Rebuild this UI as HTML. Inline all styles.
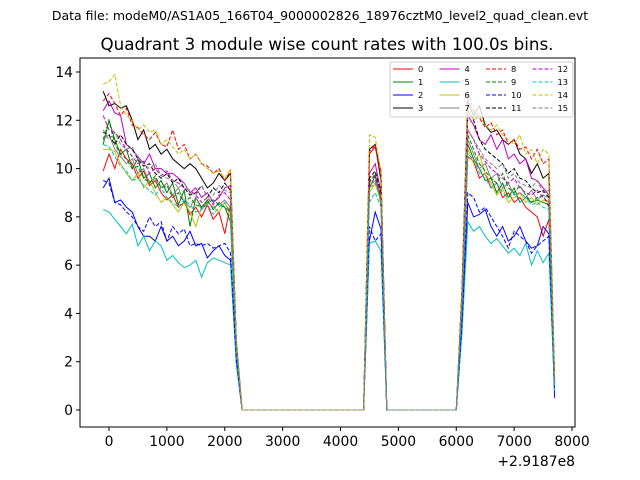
<!DOCTYPE html>
<html><head><meta charset="utf-8"><style>
html,body{margin:0;padding:0;background:#fff;}
svg{display:block;font-family:"DejaVu Sans","Liberation Sans",sans-serif;}
</style></head><body>
<svg id="chart" width="640" height="480" viewBox="0 0 640 480" xmlns="http://www.w3.org/2000/svg">
<rect width="640" height="480" fill="#fff"/>
<text x="320" y="20" font-size="12.5" text-anchor="middle">Data file: modeM0/AS1A05_166T04_9000002826_18976cztM0_level2_quad_clean.evt</text>
<text x="327" y="50" font-size="16.7" text-anchor="middle">Quadrant 3 module wise count rates with 100.0s bins.</text>
<g id="plot"></g>
<rect x="80" y="58" width="495" height="369" fill="none" stroke="#000" stroke-width="1"/>
<g id="axes"></g>
<text x="575" y="466" font-size="13.9" text-anchor="end">+2.9187e8</text>
<g id="legend"></g>
</svg>
<script>
const xStart=-100, xStep=100, nPts=79;
const xTicks=[0,1000,2000,3000,4000,5000,6000,7000,8000];
const yTicks=[0,2,4,6,8,10,12,14];
const names=['0','1','2','3','4','5','6','7','8','9','10','11','12','13','14','15'];
const colors=['#ff0000','#008000','#0000ff','#000000','#bf00bf','#00bfbf','#bfbf00','#808080','#ff0000','#008000','#0000ff','#000000','#bf00bf','#00bfbf','#bfbf00','#808080'];
// segment A: x=-100..2200 (24 values)
const segA=[
[9.9,10.6,10,10.8,10.4,10.2,9.6,9.9,9.3,9.5,9.0,8.7,8.9,8.4,8.6,8.1,8.4,8.0,8.5,7.9,8.2,7.3,8.5,2.5],
[11.0,12.0,11.2,10.6,10.8,10.0,10.4,9.6,9.8,9.2,9.5,9.0,9.4,8.5,9.1,7.6,8.8,8.4,8.7,8.3,8.6,8.4,7.8,2.4],
[9.2,9.6,8.6,8.7,8.4,8.2,7.6,7.2,7.2,7.0,7.6,7.0,7.2,6.8,7.0,7.4,6.8,6.9,6.3,6.6,6.8,6.4,6.2,2.0],
[13.2,12.6,12.7,12.5,12.6,12.0,11.2,11.6,10.8,11.0,10.6,10.8,10.4,10.2,10.0,10.2,10.0,9.6,9.2,9.4,9.8,9.5,9.8,2.9],
[12.4,12.8,12.3,12.2,11.0,10.8,10.5,10.2,10.6,10.0,10.0,9.8,9.8,9.6,9.4,9.0,9.2,8.8,9.0,8.6,8.8,9.2,9.3,2.8],
[8.3,8.2,7.9,7.6,7.3,7.7,6.8,7.2,6.6,7.0,6.8,6.2,6.4,6.1,5.9,6.0,6.2,5.5,6.1,6.3,6.2,6.1,6.0,1.9],
[10.8,10.8,10.7,10.2,9.8,9.5,9.8,9.2,9.5,9.0,8.6,8.8,8.5,8.2,8.6,8.2,7.6,8.4,8.6,8.4,8.2,8.6,8.0,2.4],
[11.2,11.4,10.8,10.5,10.2,10.4,9.8,10.0,9.4,9.6,9.2,9.4,8.9,9.2,8.6,8.4,8.8,8.3,8.6,8.4,8.5,8.7,8.4,2.6],
[12.8,13.1,12.7,12.2,12.5,11.8,11.7,11.4,11.2,11.5,11.0,10.9,11.6,10.8,11.0,10.4,10.6,10.2,10.1,9.8,10.0,9.5,9.9,2.9],
[11.2,12.0,11.0,10.6,10.4,10.0,10.1,9.6,9.4,9.7,9.2,9.3,8.8,9.0,8.6,8.8,8.5,8.4,8.6,8.7,8.5,8.4,8.2,2.5],
[9.5,9.4,8.6,8.5,8.2,8.0,7.6,7.4,8.0,7.6,7.8,7.0,7.6,7.3,7.5,6.8,6.9,6.8,6.9,6.7,6.8,6.9,6.5,2.1],
[11.5,11.4,11.0,11.4,11.0,10.8,10.4,10.1,10.2,9.8,9.6,9.8,9.4,9.6,9.2,8.9,9.0,9.3,8.8,9.2,9.0,9.4,9.1,2.7],
[12.2,11.6,11.5,11.2,10.8,10.5,10.2,10.3,9.8,10.0,9.7,9.9,9.5,9.4,9.2,9.1,8.9,8.6,8.8,8.5,8.9,9.0,8.7,2.6],
[11.0,10.9,10.5,10.1,9.9,9.5,9.6,9.3,9.1,8.9,9.2,8.8,8.6,8.4,8.7,8.5,8.2,8.3,8.5,8.1,8.4,8.6,8.2,2.5],
[13.5,13.6,13.9,12.6,12.2,12.0,11.6,11.8,11.5,11.6,11.0,11.2,10.9,10.6,10.8,10.4,10.6,10.2,10.0,9.8,9.9,9.6,10.0,3.0],
[11.6,11.2,11.5,11.0,10.8,10.9,10.4,10.2,10.0,10.2,9.7,9.6,9.5,9.2,9.4,9.0,8.9,9.3,8.8,8.9,9.3,9.1,9.0,2.7]];
// segment B: x=4500,4600,4700
const segB=[
[10.6,10.9,9.9],[9.2,9.7,8.5],[7.0,8.2,7.5],[10.8,11.0,9.5],[9.8,10.2,9.0],[6.9,7.0,6.6],[9.0,9.4,8.6],[9.3,9.5,8.8],
[10.7,11.0,9.7],[9.4,9.8,8.7],[7.6,7.0,7.3],[9.6,9.9,9.0],[9.5,9.7,8.9],[8.6,9.0,8.4],[11.4,11.3,9.8],[9.2,9.4,8.7]];
// segment C: x=6100..7700 (17 values)
const segC=[
[4.0,10.5,10.3,9.6,9.8,9.2,9.4,8.8,9.0,8.6,8.8,8.4,8.2,8.0,7.2,7.9,1.0],
[4.2,11.0,10.4,10.0,9.5,9.6,9.0,9.4,8.8,9.2,8.6,8.8,8.6,8.7,8.6,8.5,1.1],
[3.4,8.6,8.0,8.1,8.3,7.6,7.2,7.6,7.0,7.2,7.6,7.0,6.7,6.8,7.6,7.3,0.5],
[5.0,12.8,12.2,12.6,11.8,11.5,11.6,11.2,11.0,11.2,10.6,10.4,9.8,10.2,9.6,9.8,1.3],
[4.7,12.2,11.8,11.2,11.0,11.4,10.8,11.2,10.4,10.6,10.2,10.4,9.6,9.5,9.2,8.9,1.2],
[3.2,7.8,7.4,7.6,7.2,6.9,7.1,6.8,6.5,6.7,6.4,6.9,6.0,6.6,6.1,6.5,0.8],
[4.4,10.8,10.2,10.6,9.8,9.4,8.9,9.2,8.6,8.8,9.0,8.6,8.8,8.5,8.7,8.6,1.1],
[4.5,11.2,10.6,10.0,10.2,9.6,9.8,9.2,9.4,8.9,9.0,8.8,9.1,8.7,8.9,8.8,1.1],
[5.1,13.2,12.4,12.1,11.7,11.9,11.4,11.6,11.0,11.2,10.8,10.9,10.4,10.8,10.2,10.4,1.3],
[4.4,11.4,10.8,10.2,9.9,9.6,9.4,9.8,9.2,9.0,9.3,8.9,8.6,8.8,8.9,8.4,1.1],
[3.6,9.0,8.8,8.2,8.4,8.0,7.6,7.2,6.7,7.4,7.2,7.0,6.5,6.8,7.0,7.2,0.9],
[4.8,12.4,12.0,11.2,10.8,10.6,10.4,10.2,9.8,10.0,9.6,9.5,9.2,9.0,9.1,8.8,1.2],
[4.6,11.6,11.2,10.6,10.3,10.0,9.8,9.6,9.4,9.6,9.2,9.0,8.9,9.1,8.8,8.6,1.1],
[4.3,10.6,10.4,9.8,9.6,9.2,9.4,9.0,8.8,9.0,8.6,8.8,8.5,8.6,8.4,8.3,1.0],
[5.0,12.6,12.0,12.2,11.8,11.6,11.8,11.4,11.2,11.0,11.4,10.6,10.8,10.2,10.8,10.6,1.4],
[4.5,11.6,11.2,10.8,10.4,10.2,10.0,10.2,9.6,9.8,9.4,9.3,9.2,9.5,9.0,9.1,1.1]];

const L=80,T=58,W=495,H=369;
function xs(v){return 109+(v-0)*463/8000;}
function ys(v){return 410-v*338/14;}
const NS='http://www.w3.org/2000/svg';
function mk(tag,attrs,parent){const e=document.createElementNS(NS,tag);for(const k in attrs)e.setAttribute(k,attrs[k]);parent.appendChild(e);return e;}
function fullSeries(i){
  const out=[];
  for(let k=0;k<nPts;k++){
    const x=xStart+k*xStep; let v=0;
    if(x<=2200) v=segA[i][k];
    else if(x>=4500&&x<=4700) v=segB[i][(x-4500)/100];
    else if(x>=6100) v=segC[i][(x-6100)/100];
    out.push([x,v]);
  }
  return out;
}
const plot=document.getElementById('plot');
for(let i=0;i<16;i++){
  const pts=fullSeries(i).map(p=>xs(p[0]).toFixed(1)+','+ys(p[1]).toFixed(1)).join(' ');
  const pl=mk('polyline',{points:pts,fill:'none',stroke:colors[i],'stroke-width':1},plot);
  if(i>=8) pl.setAttribute('stroke-dasharray','4,2');
  
  
}
const axes=document.getElementById('axes');
xTicks.forEach(t=>{
  const x=xs(t);
  const ln=mk('line',{x1:x,x2:x,y1:T+H,y2:T+H+4,stroke:'#000'},axes);
  
  
  const tx=mk('text',{x:x,y:T+H+19,'font-size':13.9,'text-anchor':'middle'},axes);
  tx.textContent=t;
  
  
});
yTicks.forEach(t=>{
  const y=ys(t);
  const ln=mk('line',{x1:L-4,x2:L,y1:y,y2:y,stroke:'#000'},axes);
  
  
  const tx=mk('text',{x:L-7,y:y+5,'font-size':13.9,'text-anchor':'end'},axes);
  tx.textContent=t;
  
  
});
const lg=document.getElementById('legend');
const box=mk('rect',{x:390,y:62,width:183,height:55,fill:'#fff','fill-opacity':0.8,stroke:'#ccc',rx:2},lg);


for(let i=0;i<16;i++){
  const c=Math.floor(i/4), r=i%4;
  const x0=393+c*46.5, y0=69+r*13;
  const ln=mk('line',{x1:x0,x2:x0+20,y1:y0,y2:y0,stroke:colors[i],'stroke-width':1},lg);
  if(i>=8) ln.setAttribute('stroke-dasharray','4,2');
  
  
  const tx=mk('text',{x:x0+25,y:y0+3,'font-size':8.3},lg);
  tx.textContent=names[i];
  
  
}
</script>
</body></html>
